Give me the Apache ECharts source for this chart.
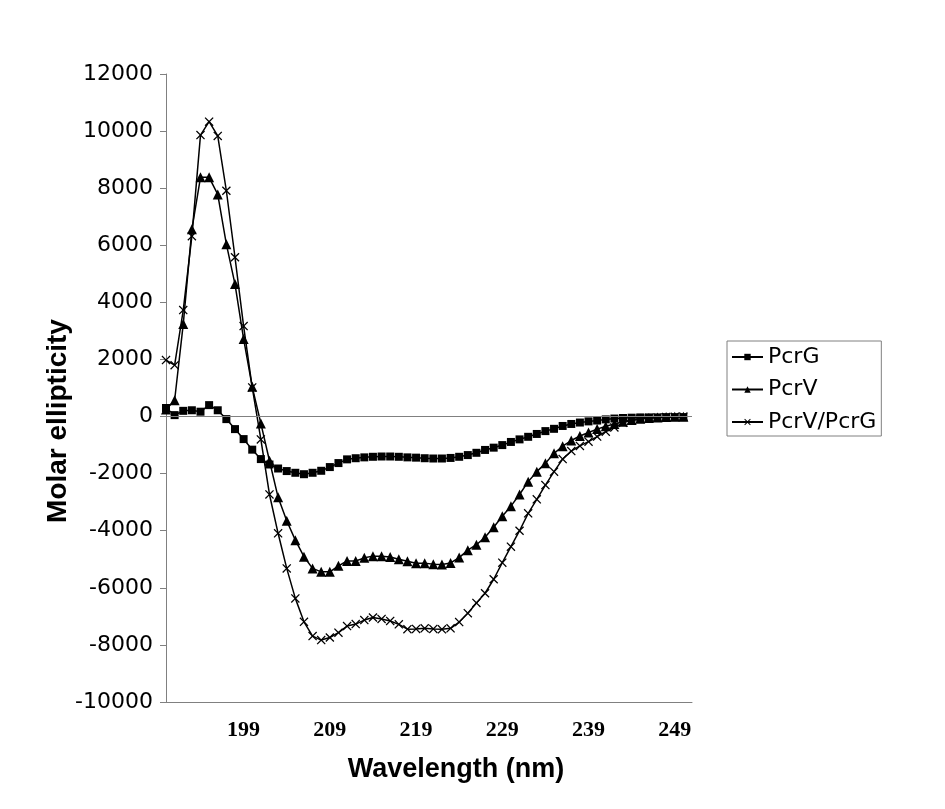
<!DOCTYPE html>
<html>
<head>
<meta charset="utf-8">
<script src="https://cdn.jsdelivr.net/npm/echarts@6/dist/echarts.min.js"></script>
<style>
html,body{margin:0;padding:0;background:#fff;}
#chart{width:945px;height:809px;}
</style>
</head>
<body>
<div id="chart"></div>
<script>
const wavelengths = [190,191,192,193,194,195,196,197,198,199,200,201,202,203,204,205,206,207,208,209,210,211,212,213,214,215,216,217,218,219,220,221,222,223,224,225,226,227,228,229,230,231,232,233,234,235,236,237,238,239,240,241,242,243,244,245,246,247,248,249,250];
const xTickLabels = [199,209,219,229,239,249];

const pcrG = [300,50,200,220,170,400,220,-90,-440,-790,-1160,-1490,-1680,-1820,-1910,-1970,-2020,-1970,-1900,-1770,-1630,-1500,-1460,-1430,-1410,-1400,-1400,-1410,-1430,-1440,-1460,-1470,-1470,-1450,-1410,-1350,-1270,-1170,-1090,-1000,-890,-800,-710,-610,-510,-430,-330,-260,-210,-170,-140,-100,-70,-50,-40,-30,-30,-30,-20,-20,-20];
const pcrV = [250,570,3240,6560,8380,8380,7780,6040,4640,2720,1040,-240,-1550,-2830,-3650,-4330,-4910,-5320,-5440,-5440,-5230,-5060,-5060,-4950,-4890,-4890,-4920,-5000,-5070,-5140,-5140,-5170,-5180,-5130,-4940,-4680,-4490,-4230,-3880,-3490,-3140,-2730,-2280,-1930,-1640,-1290,-1040,-840,-680,-560,-440,-340,-260,-180,-120,-80,-50,-30,-20,-10,-10];
const pcrVG = [1980,1800,3730,6320,9860,10330,9830,7910,5580,3170,1020,-800,-2730,-4090,-5320,-6370,-7190,-7690,-7830,-7740,-7570,-7340,-7270,-7130,-7040,-7090,-7160,-7280,-7450,-7440,-7420,-7440,-7455,-7420,-7200,-6890,-6530,-6190,-5700,-5120,-4560,-4000,-3390,-2900,-2400,-1930,-1490,-1210,-1030,-880,-700,-530,-380,-220,-130,-80,-50,-30,-20,-10,0];

const seriesNames = ['PcrG','PcrV','PcrV/PcrG'];

function pairs(vals){ return wavelengths.map((w,i)=>[w, vals[i]]); }

const crossPath = 'path://M0,1L1,0L5,4L9,0L10,1L6,5L10,9L9,10L5,6L1,10L0,9L4,5Z';

const chart = echarts.init(document.getElementById('chart'), null, {renderer:'canvas'});
chart.setOption({
  backgroundColor:'#ffffff',
  animation:false,
  grid:{left:166,right:253,top:74,bottom:107,containLabel:false},
  legend:{
    orient:'vertical', left:727, top:341,
    data:seriesNames,
    backgroundColor:'#fff',
    borderColor:'#808080', borderWidth:1,
    padding:[5,5,3,4],
    itemWidth:31, itemHeight:8, itemGap:10.5,
    textStyle:{fontFamily:'DejaVu Sans', fontSize:22, color:'#000', lineHeight:22}
  },
  xAxis:{
    type:'value', min:190, max:251,
    name:'Wavelength (nm)', nameLocation:'middle', nameGap:54, nameMoveOverlap:false,
    nameTextStyle:{fontFamily:'Liberation Sans', fontWeight:'bold', fontSize:27, color:'#000', padding:[0,0,0,54]},
    axisLine:{show:true, onZero:false, lineStyle:{color:'#808080', width:1}},
    axisTick:{show:false},
    splitLine:{show:false},
    axisLabel:{
      customValues:xTickLabels,
      margin:17,
      fontFamily:'Liberation Serif', fontWeight:'bold', fontSize:22, color:'#000'
    }
  },
  yAxis:{
    type:'value', min:-10000, max:12000, interval:2000,
    name:'Molar ellipticity', nameLocation:'middle', nameGap:94, nameRotate:90, nameMoveOverlap:false,
    nameTextStyle:{fontFamily:'Liberation Sans', fontWeight:'bold', fontSize:28, color:'#000', padding:[0,66,0,0]},
    axisLine:{show:true, lineStyle:{color:'#808080', width:1}},
    axisTick:{show:true, length:6, lineStyle:{color:'#808080'}},
    splitLine:{show:false},
    axisLabel:{margin:13, fontFamily:'DejaVu Sans', fontSize:22, color:'#000',
      formatter:function(v){ return String(v); }}
  },
  series:[
    {
      name:seriesNames[0], type:'line', data:pairs(pcrG),
      symbol:'rect', symbolSize:8, showAllSymbol:true,
      lineStyle:{color:'#000', width:1.5}, itemStyle:{color:'#000'},
      z:3,
      markLine:{
        silent:true, symbol:'none', label:{show:false},
        lineStyle:{color:'#808080', width:1.2, type:'solid'},
        data:[{yAxis:0}]
      }
    },
    {
      name:seriesNames[1], type:'line', data:pairs(pcrV),
      symbol:'triangle', symbolSize:10, showAllSymbol:true,
      lineStyle:{color:'#000', width:1.5}, itemStyle:{color:'#000'},
      z:3
    },
    {
      name:seriesNames[2], type:'line', data:pairs(pcrVG),
      symbol:crossPath, symbolSize:9, showAllSymbol:true,
      lineStyle:{color:'#000', width:1.5}, itemStyle:{color:'#000'},
      z:3
    }
  ]
});
</script>
</body>
</html>
